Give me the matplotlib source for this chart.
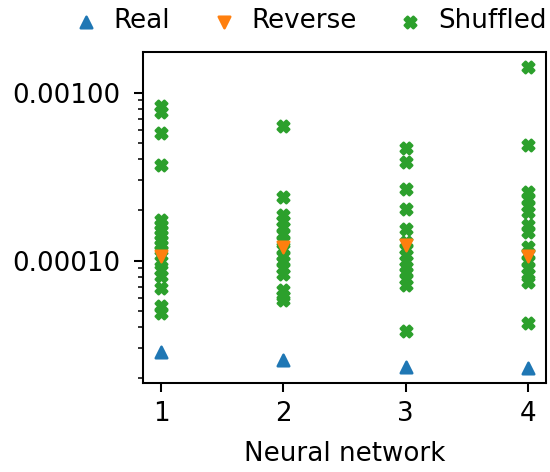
import matplotlib
matplotlib.use("Agg")
import matplotlib.pyplot as plt
from matplotlib.ticker import FormatStrFormatter

networks = [1, 2, 3, 4]

real = [2.84e-5, 2.55e-5, 2.32e-5, 2.29e-5]
reverse = [1.06e-4, 1.21e-4, 1.24e-4, 1.06e-4]

shuffled_1 = [8.27e-4, 7.63e-4, 5.74e-4, 3.72e-4, 1.74e-4, 1.63e-4, 1.52e-4,
              1.42e-4, 1.33e-4, 1.24e-4, 1.16e-4, 9.9e-5, 8.85e-5, 8.05e-5,
              6.84e-5, 5.36e-5, 4.88e-5]
shuffled_2 = [6.31e-4, 2.38e-4, 1.86e-4, 1.72e-4, 1.58e-4, 1.44e-4, 1.31e-4,
              1.18e-4, 1.07e-4, 9.9e-5, 9.1e-5, 8.3e-5, 6.7e-5, 6.2e-5, 5.8e-5]
shuffled_3 = [4.69e-4, 3.87e-4, 2.65e-4, 2.02e-4, 1.54e-4, 1.29e-4, 1.18e-4,
              1.08e-4, 1.0e-4, 9.2e-5, 8.5e-5, 7.8e-5, 7.2e-5, 3.82e-5]
shuffled_4 = [1.42e-3, 4.88e-4, 2.55e-4, 2.32e-4, 2.11e-4, 1.94e-4, 1.63e-4,
              1.48e-4, 1.21e-4, 1.10e-4, 1.0e-4, 9.1e-5, 8.3e-5, 7.5e-5,
              4.26e-5]
shuffled = [shuffled_1, shuffled_2, shuffled_3, shuffled_4]

plt.rcParams["font.size"] = 10.2

dpi = 185
fig = plt.figure(figsize=(550 / dpi, 472 / dpi), dpi=dpi)
ax = fig.add_axes([0.26, 0.188, 0.733, 0.702])

sx, sy = [], []
for n, vals in zip(networks, shuffled):
    sx += [n] * len(vals)
    sy += vals

h_real = ax.scatter(networks, real, marker="^", s=20, color="tab:blue",
                    label="Real", zorder=3)
h_rev = ax.scatter(networks, reverse, marker="v", s=20, color="tab:orange",
                   label="Reverse", zorder=3)
h_shuf = ax.scatter(sx, sy, marker="X", s=20, color="tab:green",
                    label="Shuffled", zorder=2)

ax.set_yscale("log")
ax.yaxis.set_major_formatter(FormatStrFormatter("%.5f"))
ax.tick_params(axis="y", which="major", pad=5.5)
ax.set_xticks(networks)
ax.set_xlabel("Neural network", labelpad=5.5)

fig.legend(handles=[h_real, h_rev, h_shuf], loc="upper center",
           bbox_to_anchor=(0.551, 1.032), ncol=3, frameon=False,
           handletextpad=0.06, columnspacing=1.04)

fig.savefig("out.png", dpi=dpi)
